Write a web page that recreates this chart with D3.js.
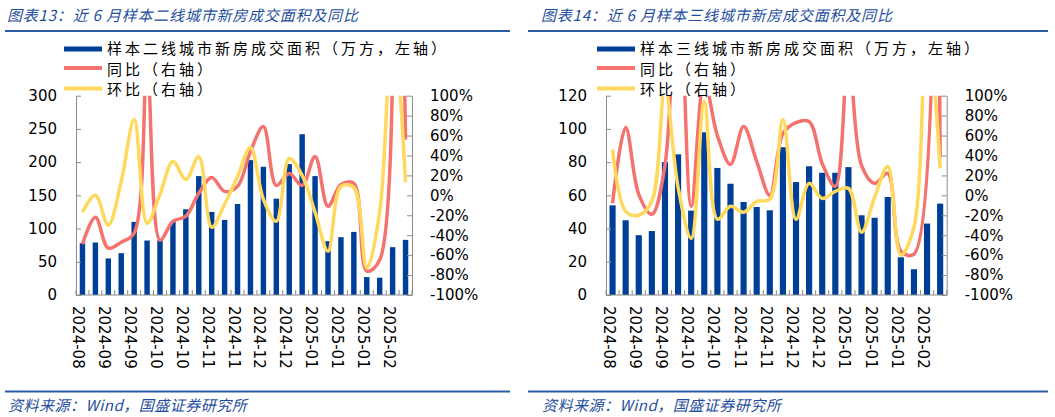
<!DOCTYPE html>
<html><head><meta charset="utf-8">
<script src="https://cdn.jsdelivr.net/npm/d3@7"></script>
<style>body{margin:0;background:#fff;} svg{display:block}</style>
</head><body><svg id="c" width="1055" height="417"></svg>
<script>
// ---- data (weekly points, label shown every other week) ----
const tickLabels = ["2024-08","","2024-09","","2024-09","","2024-10","","2024-10","","2024-11","","2024-11","","2024-12","","2024-12","","2025-01","","2025-01","","2025-01","","2025-02",""];

// 二线城市
const area2 = [78,79,55,63,110,82,82,111,129,179,125,113,137,203,193,145,197,242,179,81,87,95,27,26,72,83];
const yoy2  = [-49,-22,-53,-47,-38,130,-45,-26,-21,2,18,4,9,44,69,10,22,10,39,-11,11,12,-76,-65,600,56];
const mom2  = [-17,0,-30,14,76,-28,1,34,16,39,-32,-9,19,48,-4,-26,37,20,-17,-56,9,8,-73,-17,177,13];

// 三线城市
const area3 = [54,45,36,38.5,80,84.7,50.8,98,76.5,67,56,53,51,89,68,77.5,73.6,73.6,77,48,46.5,59,22.7,15.5,43,55];
const yoy3  = [-8,68,1,-19,30,250,-11,115,60,31,69,34,0,62,73,74,32,9,140,30,12,22,-56,-59,1500,38];
const mom3  = [46,-16,-20,-6,108,8,-43,94,-24,-11,-17,-6,-4,76,-24,12,-3,4,7,-37,-2,29,-60,-32,177,27];

const leftTicks2 = [0,50,100,150,200,250,300];
const leftTicks3 = [0,20,40,60,80,100,120];
const pctTicks = [-100,-80,-60,-40,-20,0,20,40,60,80,100];

const titles = ["图表13：近 6 月样本二线城市新房成交面积及同比", "图表14：近 6 月样本三线城市新房成交面积及同比"];
const barNames = ["样本二线城市新房成交面积（万方，左轴）", "样本三线城市新房成交面积（万方，左轴）"];
const yoyName = "同比（右轴）";
const momName = "环比（右轴）";
const sourceText = "资料来源：Wind，国盛证券研究所";

// ---- drawing ----
const svg = d3.select("#c");
const BLUE = "#003f97", RED = "#f4736f", YEL = "#ffd95e", HEAD = "#1f4e9e", AX = "#8c8c8c";
const numFont = "'DejaVu Sans', Verdana, sans-serif";
const cjkFont = "'Noto Sans CJK SC', sans-serif";

function panel(cfg) {
  const g = svg.append("g");
  const top = 95.7, bottom = 295;
  // header
  g.append("text").attr("x", cfg.ox + 7).attr("y", 14.5).attr("dominant-baseline", "central")
    .attr("font-family", cjkFont).attr("font-style", "italic").attr("font-size", 15).attr("letter-spacing", 0.8)
    .attr("fill", HEAD).text(cfg.title);
  g.append("line").attr("x1", cfg.lineX0).attr("x2", cfg.lineX1).attr("y1", 31).attr("y2", 31)
    .attr("stroke", "#2b5ca8").attr("stroke-width", 2);
  g.append("line").attr("x1", cfg.lineX0).attr("x2", cfg.lineX1).attr("y1", 391.5).attr("y2", 391.5)
    .attr("stroke", "#2b5ca8").attr("stroke-width", 2);
  g.append("text").attr("x", cfg.ox + 8).attr("y", 404).attr("dominant-baseline", "central")
    .attr("font-family", cjkFont).attr("font-style", "italic").attr("font-size", 15).attr("letter-spacing", 0.5)
    .attr("fill", HEAD).text(sourceText);

  const idx = tickLabels.map((d, i) => i);
  const x = d3.scaleBand().domain(idx).range([cfg.x0, cfg.x1]).padding(0);
  const bw = x.bandwidth();
  const yL = d3.scaleLinear().domain([0, cfg.lmax]).range([bottom, top]);
  const yR = d3.scaleLinear().domain([-100, 100]).range([bottom, top]);

  // bars
  const barW = bw * cfg.barFrac;
  g.append("g").selectAll("rect").data(cfg.area).join("rect")
    .attr("x", (d, i) => x(i) + bw / 2 - barW / 2)
    .attr("y", d => yL(d)).attr("width", barW).attr("height", d => bottom - yL(d))
    .attr("fill", BLUE);

  // clip for lines
  const cid = "clip" + cfg.id;
  svg.append("clipPath").attr("id", cid).append("rect")
    .attr("x", cfg.x0 - 5).attr("y", top).attr("width", cfg.x1 - cfg.x0 + 10).attr("height", bottom - top);
  const line = d3.line().x((d, i) => x(i) + bw / 2).y(d => yR(d)).curve(d3.curveCatmullRom.alpha(0.5));
  const lg = g.append("g").attr("clip-path", `url(#${cid})`);
  lg.append("path").attr("d", line(cfg.yoy)).attr("fill", "none").attr("stroke", RED).attr("stroke-width", 3.5);
  lg.append("path").attr("d", line(cfg.mom)).attr("fill", "none").attr("stroke", YEL).attr("stroke-width", 3.5);

  // axes
  const la = g.append("g").attr("transform", `translate(${cfg.x0},0)`)
    .call(d3.axisLeft(yL).tickValues(cfg.lticks).tickSizeInner(-5).tickSizeOuter(0).tickPadding(19));
  const ra = g.append("g").attr("transform", `translate(${cfg.x1},0)`)
    .call(d3.axisRight(yR).tickValues(pctTicks).tickSizeInner(-5).tickSizeOuter(0).tickPadding(18).tickFormat(d => d + "%"));
  [la, ra].forEach(a => {
    a.selectAll("path, line").attr("stroke", AX);
    a.selectAll("text").attr("font-family", numFont).attr("font-size", 15).attr("fill", "#000");
  });
  // bottom axis
  g.append("line").attr("x1", cfg.x0).attr("x2", cfg.x1).attr("y1", bottom).attr("y2", bottom).attr("stroke", AX);
  const bounds = idx.map(i => x(i)).concat([cfg.x1]);
  g.append("g").selectAll("line").data(bounds).join("line")
    .attr("x1", d => d).attr("x2", d => d).attr("y1", bottom).attr("y2", bottom - 5).attr("stroke", AX);
  g.append("g").selectAll("text").data(tickLabels).join("text")
    .attr("transform", (d, i) => `translate(${x(i) + bw / 2 - 4},${306})rotate(90)`)
    .attr("dominant-baseline", "central").attr("text-anchor", "start")
    .attr("font-family", numFont).attr("font-size", 15).attr("fill", "#000").text(d => d);

  // legend
  const lx = cfg.legX;
  g.append("rect").attr("x", lx).attr("y", 46.5).attr("width", 38).attr("height", 5).attr("fill", BLUE);
  g.append("line").attr("x1", lx).attr("x2", lx + 38).attr("y1", 68).attr("y2", 68).attr("stroke", RED).attr("stroke-width", 4);
  g.append("line").attr("x1", lx).attr("x2", lx + 38).attr("y1", 88.5).attr("y2", 88.5).attr("stroke", YEL).attr("stroke-width", 4);
  const names = [cfg.barName, yoyName, momName];
  const ys = [47.5, 68, 88.5];
  names.forEach((n, i) => {
    g.append("text").attr("x", lx + 43).attr("y", ys[i]).attr("dominant-baseline", "central")
      .attr("font-family", cjkFont).attr("font-size", 15).attr("letter-spacing", 3)
      .attr("fill", "#000").text(n);
  });
}

panel({id: 1, ox: 0, lineX0: 5, lineX1: 510, x0: 76, x1: 412, lmax: 300, lticks: leftTicks2,
  area: area2, yoy: yoy2, mom: mom2, title: titles[0], barName: barNames[0], legX: 64, barFrac: 0.42});
panel({id: 2, ox: 534, lineX0: 528, lineX1: 1048, x0: 606, x1: 946.7, lmax: 120, lticks: leftTicks3,
  area: area3, yoy: yoy3, mom: mom3, title: titles[1], barName: barNames[1], legX: 597, barFrac: 0.47});
</script></body></html>
